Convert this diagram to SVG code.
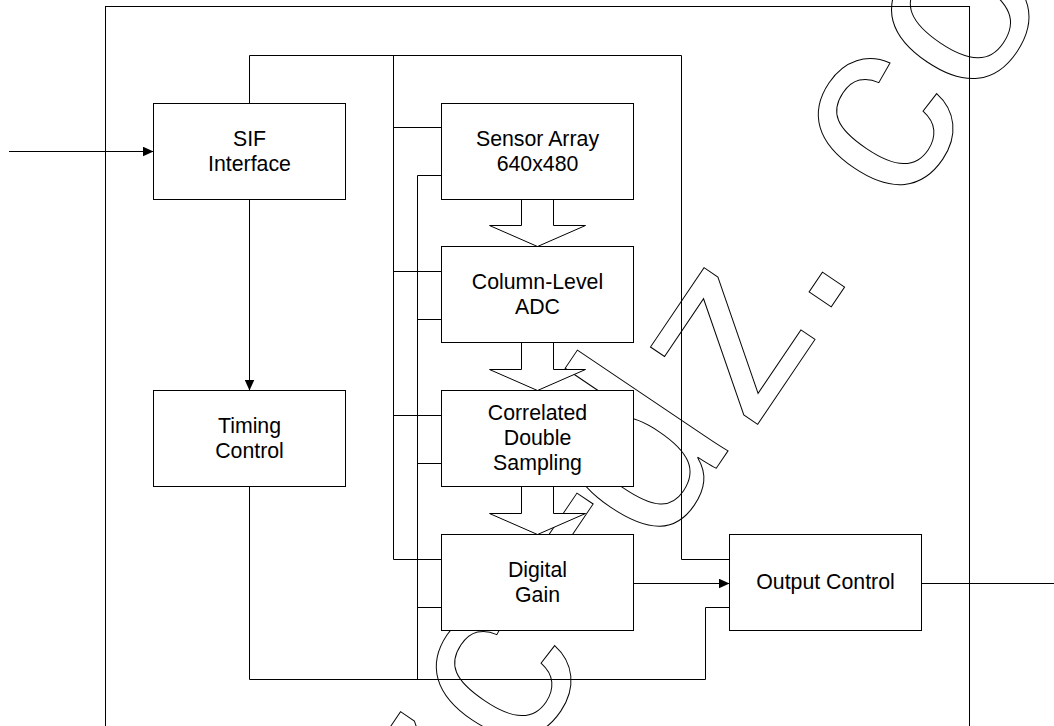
<svg xmlns="http://www.w3.org/2000/svg" width="1054" height="726" viewBox="0 0 1054 726">
<style>
.wm{font-family:"Liberation Sans",Arial,sans-serif;font-size:250px;fill:none;stroke:#000;stroke-width:1;text-anchor:middle}
.box{fill:#fff;stroke:#000;stroke-width:1}
.blk{fill:#fff;stroke:#000;stroke-width:1}
.ln{fill:none;stroke:#000;stroke-width:1}
.lbl{font-family:"Liberation Sans",Arial,sans-serif;font-size:21.3px;fill:#000;text-anchor:middle}
</style>
<defs>
<marker id="ah" markerUnits="userSpaceOnUse" markerWidth="11" markerHeight="10" refX="11" refY="5" orient="auto">
<path d="M0,0 L11,5 L0,10 z" fill="#000"/>
</marker>
</defs>
<rect width="1054" height="726" fill="#fff"/>
<g id="watermark">
<text class="wm" transform="translate(483.4,825) rotate(-56)">z</text>
<text class="wm" transform="translate(556,714) rotate(-56)">c</text>
<text class="wm" transform="translate(623,561) rotate(-56)">-</text>
<text class="wm" transform="translate(698,495) rotate(-56)">d</text>
<text class="wm" transform="translate(787,381) rotate(-56)">z</text>
<text class="wm" transform="translate(838,297) rotate(-56)">.</text>
<text class="wm" transform="translate(938,162) rotate(-56)">c</text>
<text class="wm" transform="translate(1015,50) rotate(-56)">o</text>
</g>
<rect id="frame" x="105.5" y="6.5" width="864" height="800" fill="none" stroke="#000" stroke-width="1"/>
<g id="connectors">
<path class="ln" d="M9,151.5 H153.5" marker-end="url(#ah)"/>
<path class="ln" d="M249.5,199.5 V390.5" marker-end="url(#ah)"/>
<path class="ln" d="M249.5,103.5 V55.5 H681.5 V559.5 H729.5"/>
<path class="ln" d="M393.5,55.5 V559.5 H441.5"/>
<path class="ln" d="M393.5,127.5 H441.5 M393.5,271.5 H441.5 M393.5,415.5 H441.5"/>
<path class="ln" d="M249.5,486.5 V679.5 H705.5 V607.5 H729.5"/>
<path class="ln" d="M441.5,175.5 H417.5 V679.5"/>
<path class="ln" d="M417.5,319.5 H441.5 M417.5,463.5 H441.5 M417.5,607.5 H441.5"/>
<path class="ln" d="M633.5,583.5 H729.5" marker-end="url(#ah)"/>
<path class="ln" d="M921.5,583.5 H1054"/>
<polygon class="blk" points="521.5,199.5 553.5,199.5 553.5,225.5 585.5,225.5 537.5,246.5 489.5,225.5 521.5,225.5"/>
<polygon class="blk" points="521.5,342.5 553.5,342.5 553.5,369.5 585.5,369.5 537.5,390.5 489.5,369.5 521.5,369.5"/>
<polygon class="blk" points="521.5,486.5 553.5,486.5 553.5,513.5 585.5,513.5 537.5,534.5 489.5,513.5 521.5,513.5"/>
</g>
<g id="sif">
<rect class="box" x="153.5" y="103.5" width="192" height="96"/>
<text class="lbl" x="249.5" y="145.5">SIF</text>
<text class="lbl" x="249.5" y="170.5">Interface</text>
</g>
<g id="timing">
<rect class="box" x="153.5" y="390.5" width="192" height="96"/>
<text class="lbl" x="249.5" y="433">Timing</text>
<text class="lbl" x="249.5" y="458">Control</text>
</g>
<g id="sensor">
<rect class="box" x="441.5" y="103.5" width="192" height="96"/>
<text class="lbl" x="537.5" y="145.5">Sensor Array</text>
<text class="lbl" x="537.5" y="170.5">640x480</text>
</g>
<g id="adc">
<rect class="box" x="441.5" y="246.5" width="192" height="96"/>
<text class="lbl" x="537.5" y="289">Column-Level</text>
<text class="lbl" x="537.5" y="314">ADC</text>
</g>
<g id="cds">
<rect class="box" x="441.5" y="390.5" width="192" height="96"/>
<text class="lbl" x="537.5" y="420">Correlated</text>
<text class="lbl" x="537.5" y="445">Double</text>
<text class="lbl" x="537.5" y="470">Sampling</text>
</g>
<g id="gain">
<rect class="box" x="441.5" y="534.5" width="192" height="96"/>
<text class="lbl" x="537.5" y="577">Digital</text>
<text class="lbl" x="537.5" y="602">Gain</text>
</g>
<g id="output">
<rect class="box" x="729.5" y="534.5" width="192" height="96"/>
<text class="lbl" x="825.5" y="589">Output Control</text>
</g>
</svg>
